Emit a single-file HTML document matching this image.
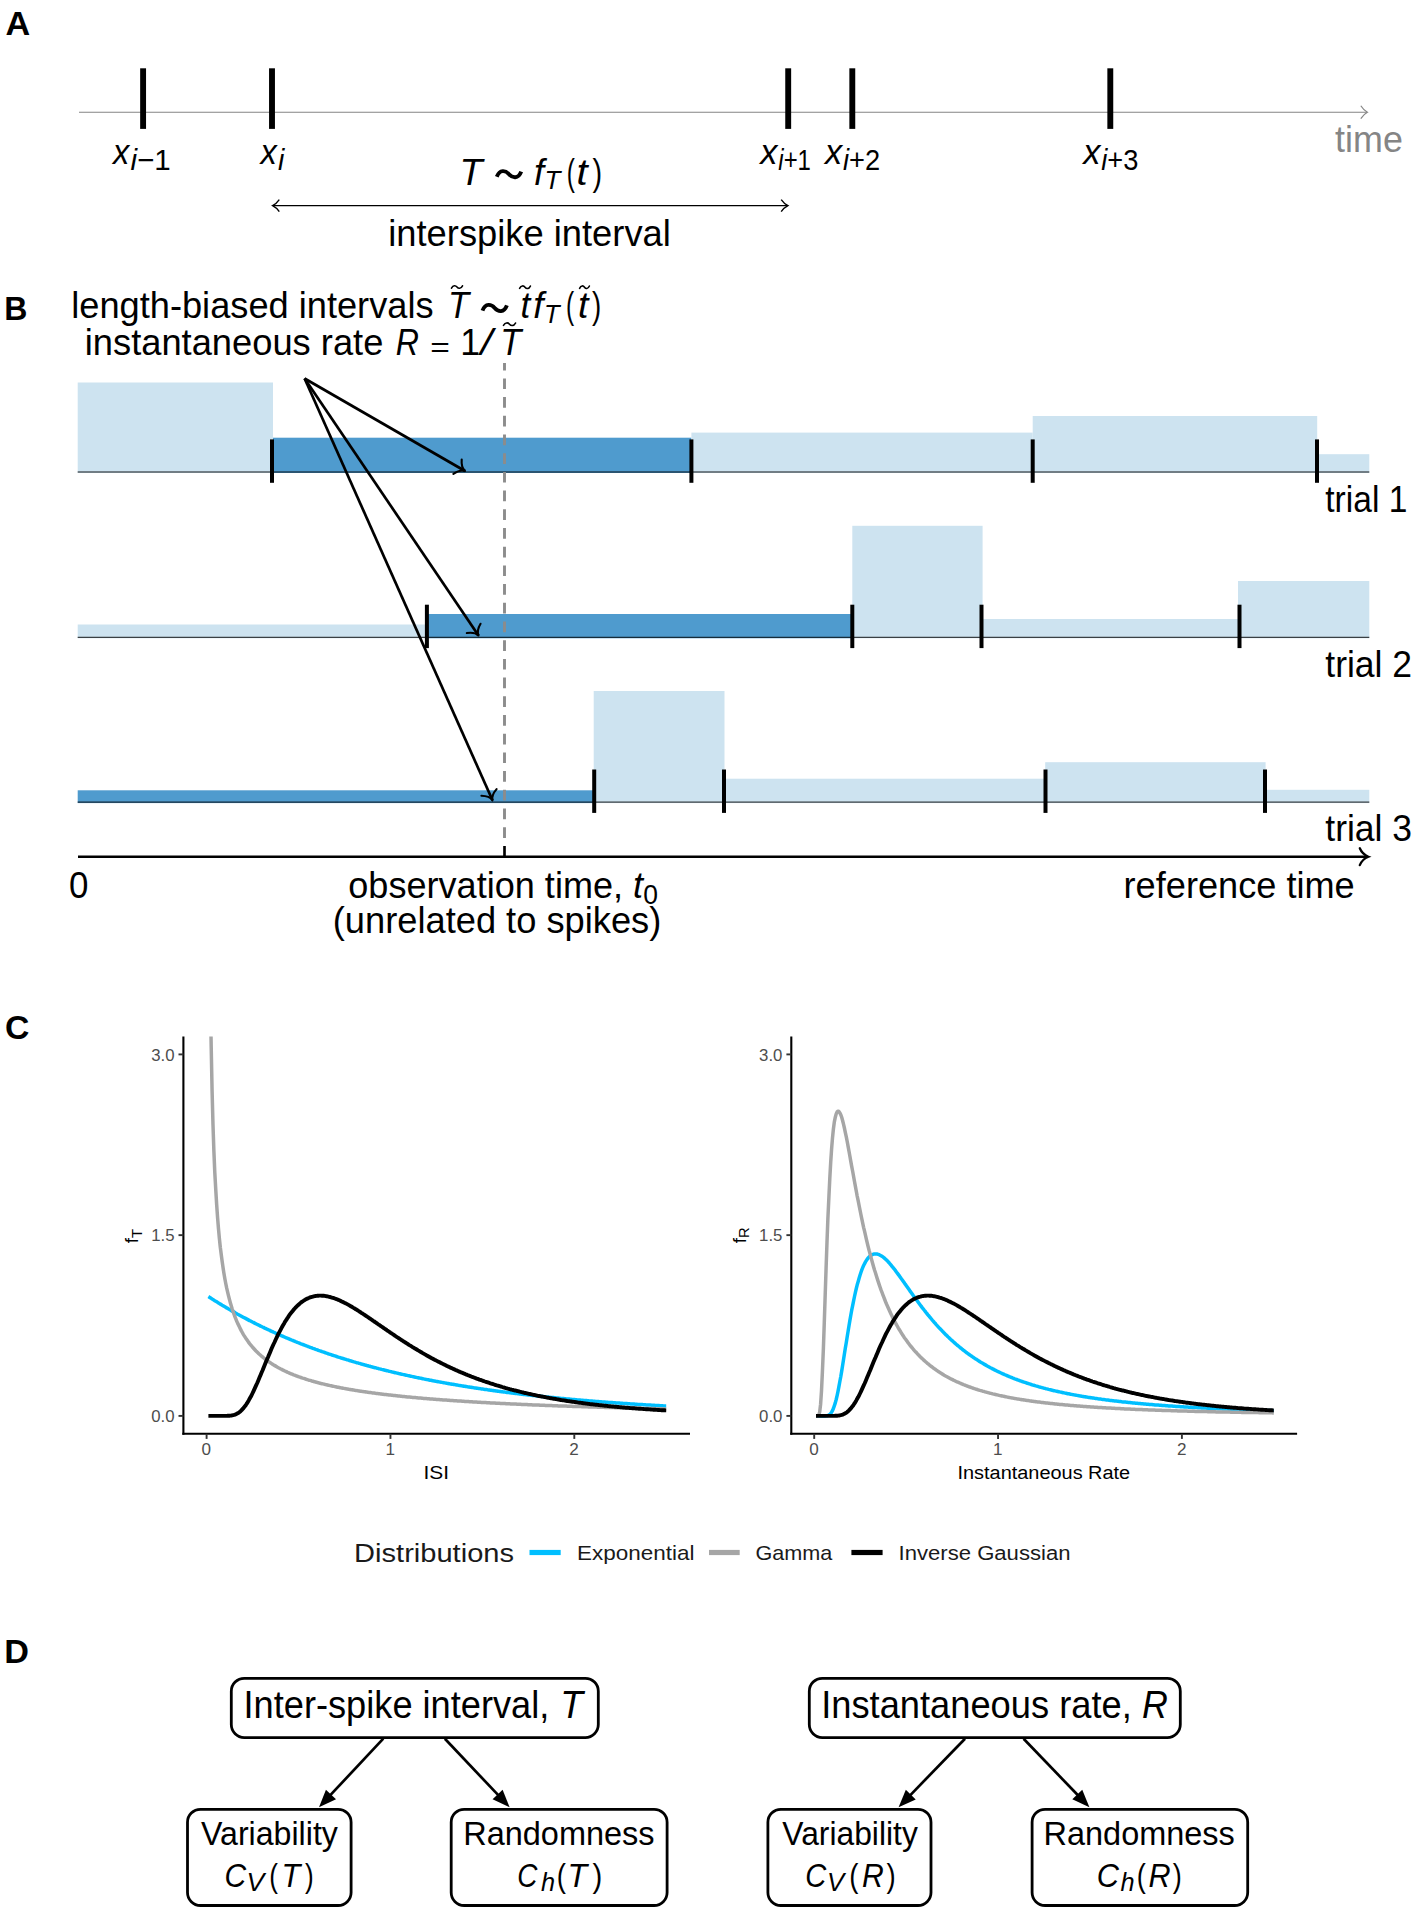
<!DOCTYPE html>
<html><head><meta charset="utf-8"><title>Figure</title>
<style>
html,body{margin:0;padding:0;background:#fff;}
body{width:1417px;height:1914px;overflow:hidden;font-family:"Liberation Sans",sans-serif;}
svg{display:block;}
svg text{font-family:"Liberation Sans",sans-serif;}
</style></head><body>
<svg width="1417" height="1914" viewBox="0 0 1417 1914">
<rect width="1417" height="1914" fill="#fff"/>
<text transform="translate(5.57,34.60) scale(1.0273,1)" font-size="33.3" fill="#000" font-weight="bold">A</text>
<text transform="translate(4.18,320.30) scale(0.9619,1)" font-size="33.3" fill="#000" font-weight="bold">B</text>
<text transform="translate(4.89,1039.40) scale(1.0136,1)" font-size="33.3" fill="#000" font-weight="bold">C</text>
<text transform="translate(4.34,1663.20) scale(1.0286,1)" font-size="33.3" fill="#000" font-weight="bold">D</text>
<g id="panelA">
<line x1="79.00" y1="112.20" x2="1366.80" y2="112.20" stroke="#858585" stroke-width="1.1" />
<path d="M1360.8,105.8 Q1363.6,110.2 1367.4,112.2 Q1363.6,114.2 1360.8,118.6" fill="none" stroke="#858585" stroke-width="1.2"/>
<line x1="143.10" y1="68.30" x2="143.10" y2="128.90" stroke="#000" stroke-width="5.9" />
<line x1="272.00" y1="68.30" x2="272.00" y2="128.90" stroke="#000" stroke-width="5.9" />
<line x1="788.20" y1="68.30" x2="788.20" y2="128.90" stroke="#000" stroke-width="5.9" />
<line x1="852.30" y1="68.30" x2="852.30" y2="128.90" stroke="#000" stroke-width="5.9" />
<line x1="1110.30" y1="68.30" x2="1110.30" y2="128.90" stroke="#000" stroke-width="5.9" />
<text transform="translate(1335.10,152.10) scale(0.9565,1)" font-size="37.5" fill="#858585" >time</text>
<text transform="translate(112.92,164.00) scale(0.9150,1)" font-size="35.6" fill="#000" font-style="italic">x</text>
<text transform="translate(130.40,169.80) scale(1.0128,1)" font-size="29.2" fill="#000" ><tspan font-style="italic">i</tspan>&#8722;1</text>
<text transform="translate(260.42,164.00) scale(0.9150,1)" font-size="35.6" fill="#000" font-style="italic">x</text>
<text transform="translate(278.10,169.80) scale(0.9714,1)" font-size="29.2" fill="#000" ><tspan font-style="italic">i</tspan></text>
<text transform="translate(760.37,164.00) scale(0.9650,1)" font-size="35.6" fill="#000" font-style="italic">x</text>
<text transform="translate(778.30,169.80) scale(0.8205,1)" font-size="29.2" fill="#000" ><tspan font-style="italic">i</tspan>+1</text>
<text transform="translate(825.07,164.00) scale(0.9650,1)" font-size="35.6" fill="#000" font-style="italic">x</text>
<text transform="translate(843.00,169.80) scale(0.9333,1)" font-size="29.2" fill="#000" ><tspan font-style="italic">i</tspan>+2</text>
<text transform="translate(1083.26,164.00) scale(0.9650,1)" font-size="35.6" fill="#000" font-style="italic">x</text>
<text transform="translate(1101.20,169.80) scale(0.9333,1)" font-size="29.2" fill="#000" ><tspan font-style="italic">i</tspan>+3</text>
<text transform="translate(459.39,184.50) scale(1.0045,1)" font-size="37.5" fill="#000" font-style="italic">T</text>
<path d="M496.80,176.80 C499.73,169.00 505.58,170.30 509.00,174.20 S518.27,179.40 521.20,171.60" fill="none" stroke="#000" stroke-width="3.9" stroke-linecap="butt"/>
<text transform="translate(534.04,184.50) scale(0.9615,1)" font-size="37.5" fill="#000" font-style="italic">f</text>
<text transform="translate(544.50,189.30) scale(1.0000,1)" font-size="26.0" fill="#000" font-style="italic">T</text>
<text transform="translate(566.70,184.50) scale(0.6500,1)" font-size="37.5" fill="#000" >(</text>
<text transform="translate(576.46,184.50) scale(1.0700,1)" font-size="37.5" fill="#000" font-style="italic">t</text>
<text transform="translate(592.50,184.50) scale(0.7700,1)" font-size="37.5" fill="#000" >)</text>
<line x1="273.00" y1="205.60" x2="787.50" y2="205.60" stroke="#000" stroke-width="1.4" />
<path d="M279.3,199.6 Q276.5,203.6 272.6,205.6 Q276.5,207.6 279.3,211.6" fill="none" stroke="#000" stroke-width="1.4"/>
<path d="M781.2,199.6 Q784,203.6 787.9,205.6 Q784,207.6 781.2,211.6" fill="none" stroke="#000" stroke-width="1.4"/>
<text transform="translate(388.26,245.50) scale(0.9684,1)" font-size="37.5" fill="#000" >interspike interval</text>
</g>
<g id="panelB">
<text transform="translate(71.27,318.00) scale(0.9656,1)" font-size="37.5" fill="#000" >length-biased intervals</text>
<text transform="translate(447.95,318.00) scale(0.9182,1)" font-size="37.5" fill="#000" font-style="italic">T</text>
<path d="M451.50,288.17 C453.15,284.92 455.68,285.31 457.00,287.00 S460.85,289.08 462.50,285.83" fill="none" stroke="#000" stroke-width="1.6" stroke-linecap="round"/>
<path d="M482.50,310.60 C485.43,302.80 491.28,304.10 494.70,308.00 S503.97,313.20 506.90,305.40" fill="none" stroke="#000" stroke-width="3.9" stroke-linecap="butt"/>
<text transform="translate(520.42,318.00) scale(0.9400,1)" font-size="37.5" fill="#000" font-style="italic">t</text>
<path d="M519.60,288.37 C521.22,285.12 523.70,285.51 525.00,287.20 S528.78,289.28 530.40,286.03" fill="none" stroke="#000" stroke-width="1.6" stroke-linecap="round"/>
<text transform="translate(533.22,318.00) scale(0.9846,1)" font-size="37.5" fill="#000" font-style="italic">f</text>
<text transform="translate(544.04,322.50) scale(0.9813,1)" font-size="26.0" fill="#000" font-style="italic">T</text>
<text transform="translate(565.90,318.00) scale(0.6500,1)" font-size="37.5" fill="#000" >(</text>
<text transform="translate(578.00,318.00) scale(1.0000,1)" font-size="37.5" fill="#000" font-style="italic">t</text>
<path d="M579.60,288.37 C581.07,285.12 583.32,285.51 584.50,287.20 S587.93,289.28 589.40,286.03" fill="none" stroke="#000" stroke-width="1.6" stroke-linecap="round"/>
<text transform="translate(592.00,318.00) scale(0.7400,1)" font-size="37.5" fill="#000" >)</text>
<text transform="translate(84.76,355.10) scale(0.9682,1)" font-size="37.5" fill="#000" >instantaneous rate</text>
<text transform="translate(395.74,355.10) scale(0.8560,1)" font-size="37.5" fill="#000" font-style="italic">R</text>
<text transform="translate(430.26,356.50) scale(1.2429,1)" font-size="27" fill="#000" >=</text>
<text transform="translate(460.15,355.10) scale(0.9500,1)" font-size="37.5" fill="#000" >1</text>
<text transform="translate(480.59,355.10) scale(1.1438,1)" font-size="37.5" fill="#000" font-style="italic">/</text>
<text transform="translate(500.25,355.10) scale(0.9182,1)" font-size="37.5" fill="#000" font-style="italic">T</text>
<path d="M503.50,325.37 C505.30,322.12 508.06,322.51 509.50,324.20 S513.70,326.28 515.50,323.03" fill="none" stroke="#000" stroke-width="1.6" stroke-linecap="round"/>
<rect x="77.70" y="382.50" width="195.30" height="90.50" fill="#cde3f0"/>
<rect x="273.00" y="437.70" width="418.40" height="35.30" fill="#4f9bce"/>
<rect x="691.40" y="432.60" width="341.30" height="40.40" fill="#cde3f0"/>
<rect x="1032.70" y="416.00" width="284.50" height="57.00" fill="#cde3f0"/>
<rect x="1317.20" y="454.20" width="52.10" height="18.80" fill="#cde3f0"/>
<line x1="77.70" y1="472.00" x2="1369.30" y2="472.00" stroke="#000" stroke-width="0.9" />
<line x1="272.00" y1="439.40" x2="272.00" y2="482.80" stroke="#000" stroke-width="4.0" />
<line x1="691.40" y1="439.40" x2="691.40" y2="482.80" stroke="#000" stroke-width="4.0" />
<line x1="1032.70" y1="439.40" x2="1032.70" y2="482.80" stroke="#000" stroke-width="4.0" />
<line x1="1317.00" y1="439.40" x2="1317.00" y2="482.80" stroke="#000" stroke-width="4.0" />
<rect x="77.70" y="624.50" width="349.30" height="13.80" fill="#cde3f0"/>
<rect x="427.00" y="614.00" width="425.30" height="24.30" fill="#4f9bce"/>
<rect x="852.30" y="525.80" width="130.30" height="112.50" fill="#cde3f0"/>
<rect x="982.60" y="619.00" width="255.40" height="19.30" fill="#cde3f0"/>
<rect x="1238.00" y="581.00" width="131.30" height="57.30" fill="#cde3f0"/>
<line x1="77.70" y1="637.30" x2="1369.30" y2="637.30" stroke="#000" stroke-width="0.9" />
<line x1="426.90" y1="604.70" x2="426.90" y2="648.10" stroke="#000" stroke-width="4.0" />
<line x1="852.30" y1="604.70" x2="852.30" y2="648.10" stroke="#000" stroke-width="4.0" />
<line x1="981.50" y1="604.70" x2="981.50" y2="648.10" stroke="#000" stroke-width="4.0" />
<line x1="1239.50" y1="604.70" x2="1239.50" y2="648.10" stroke="#000" stroke-width="4.0" />
<rect x="77.70" y="790.30" width="516.00" height="12.80" fill="#4f9bce"/>
<rect x="593.70" y="691.00" width="130.80" height="112.10" fill="#cde3f0"/>
<rect x="724.50" y="778.70" width="320.70" height="24.40" fill="#cde3f0"/>
<rect x="1045.20" y="762.20" width="220.40" height="40.90" fill="#cde3f0"/>
<rect x="1265.60" y="789.80" width="103.70" height="13.30" fill="#cde3f0"/>
<line x1="77.70" y1="802.10" x2="1369.30" y2="802.10" stroke="#000" stroke-width="0.9" />
<line x1="594.20" y1="769.50" x2="594.20" y2="812.90" stroke="#000" stroke-width="4.0" />
<line x1="724.00" y1="769.50" x2="724.00" y2="812.90" stroke="#000" stroke-width="4.0" />
<line x1="1045.50" y1="769.50" x2="1045.50" y2="812.90" stroke="#000" stroke-width="4.0" />
<line x1="1265.00" y1="769.50" x2="1265.00" y2="812.90" stroke="#000" stroke-width="4.0" />
<text transform="translate(1325.30,511.90) scale(0.8944,1)" font-size="37.5" fill="#000" >trial 1</text>
<text transform="translate(1325.30,676.70) scale(0.9467,1)" font-size="37.5" fill="#000" >trial 2</text>
<text transform="translate(1325.30,840.50) scale(0.9467,1)" font-size="37.5" fill="#000" >trial 3</text>
<line x1="504.50" y1="362.90" x2="504.50" y2="857.00" stroke="#8c8c8c" stroke-width="2.9" stroke-dasharray="10.7 8.0" stroke-dashoffset="3.2"/>
<line x1="304.60" y1="378.50" x2="465.00" y2="471.00" stroke="#000" stroke-width="2.7" />
<path d="M465.00,471.00 Q461.03,467.56 461.70,459.51 M465.00,471.00 Q460.03,469.29 453.40,473.89 " fill="none" stroke="#000" stroke-width="2.1" stroke-linecap="round"/>
<line x1="304.60" y1="378.50" x2="478.50" y2="635.50" stroke="#000" stroke-width="2.7" />
<path d="M478.50,635.50 Q476.43,630.67 480.55,623.73 M478.50,635.50 Q474.78,631.78 466.81,633.03 " fill="none" stroke="#000" stroke-width="2.1" stroke-linecap="round"/>
<line x1="304.60" y1="378.50" x2="492.50" y2="800.30" stroke="#000" stroke-width="2.7" />
<path d="M492.50,800.30 Q491.31,795.18 496.58,789.07 M492.50,800.30 Q489.49,795.99 481.42,795.82 " fill="none" stroke="#000" stroke-width="2.1" stroke-linecap="round"/>
<line x1="78.00" y1="856.70" x2="1367.00" y2="856.70" stroke="#000" stroke-width="2.6" />
<path d="M1359.8,848.3 Q1362.3,854.3 1368.4,856.7 Q1362.3,859.1 1359.8,865.1" fill="none" stroke="#000" stroke-width="2.3" stroke-linecap="round"/>
<line x1="504.50" y1="846.00" x2="504.50" y2="857.00" stroke="#000" stroke-width="2.4" />
<text transform="translate(69.07,898.00) scale(0.9316,1)" font-size="37.5" fill="#000" >0</text>
<text transform="translate(348.24,898.00) scale(0.9628,1)" font-size="37.5" fill="#000" >observation time, <tspan font-style="italic">t</tspan><tspan font-size="27.5" dy="5.6">0</tspan></text>
<text transform="translate(332.76,933.00) scale(0.9676,1)" font-size="37.5" fill="#000" >(unrelated to spikes)</text>
<text transform="translate(1123.57,898.00) scale(0.9648,1)" font-size="37.5" fill="#000" >reference time</text>
</g>
<g id="panelC">
<clipPath id="clip183"><rect x="183.4" y="1036.4" width="506.6" height="397.39999999999986"/></clipPath>
<polyline clip-path="url(#clip183)" points="208.4,1296.6 209.4,1297.2 210.3,1297.8 211.2,1298.4 212.1,1299.0 213.0,1299.5 213.9,1300.1 214.8,1300.7 215.8,1301.3 216.7,1301.8 217.6,1302.4 218.5,1303.0 219.4,1303.5 220.3,1304.1 221.3,1304.6 222.2,1305.2 223.1,1305.7 224.0,1306.3 224.9,1306.8 225.8,1307.4 226.7,1307.9 227.7,1308.4 228.6,1309.0 229.5,1309.5 230.4,1310.0 231.3,1310.6 232.2,1311.1 233.2,1311.6 234.1,1312.1 235.0,1312.6 235.9,1313.2 236.8,1313.7 237.7,1314.2 238.7,1314.7 239.6,1315.2 240.5,1315.7 241.4,1316.2 242.3,1316.7 243.2,1317.2 244.1,1317.7 245.1,1318.1 246.0,1318.6 246.9,1319.1 247.8,1319.6 248.7,1320.1 249.6,1320.6 250.6,1321.0 251.5,1321.5 252.4,1322.0 253.3,1322.4 254.2,1322.9 255.1,1323.4 256.0,1323.8 257.0,1324.3 257.9,1324.7 258.8,1325.2 259.7,1325.6 260.6,1326.1 261.5,1326.5 262.5,1327.0 263.4,1327.4 264.3,1327.9 265.2,1328.3 266.1,1328.7 267.0,1329.2 268.0,1329.6 268.9,1330.0 269.8,1330.4 270.7,1330.9 271.6,1331.3 272.5,1331.7 273.4,1332.1 274.4,1332.5 275.3,1333.0 276.2,1333.4 277.1,1333.8 278.0,1334.2 278.9,1334.6 279.9,1335.0 280.8,1335.4 281.7,1335.8 282.6,1336.2 283.5,1336.6 284.4,1337.0 285.3,1337.4 286.3,1337.8 287.2,1338.2 288.1,1338.5 289.0,1338.9 289.9,1339.3 290.8,1339.7 291.8,1340.1 292.7,1340.4 293.6,1340.8 294.5,1341.2 295.4,1341.6 296.3,1341.9 297.2,1342.3 298.2,1342.7 299.1,1343.0 300.0,1343.4 300.9,1343.8 301.8,1344.1 302.7,1344.5 303.7,1344.8 304.6,1345.2 305.5,1345.5 306.4,1345.9 307.3,1346.2 308.2,1346.6 309.2,1346.9 310.1,1347.3 311.0,1347.6 311.9,1347.9 312.8,1348.3 313.7,1348.6 314.6,1348.9 315.6,1349.3 316.5,1349.6 317.4,1349.9 318.3,1350.3 319.2,1350.6 320.1,1350.9 321.1,1351.2 322.0,1351.6 322.9,1351.9 323.8,1352.2 324.7,1352.5 325.6,1352.8 326.5,1353.1 327.5,1353.5 328.4,1353.8 329.3,1354.1 330.2,1354.4 331.1,1354.7 332.0,1355.0 333.0,1355.3 333.9,1355.6 334.8,1355.9 335.7,1356.2 336.6,1356.5 337.5,1356.8 338.4,1357.1 339.4,1357.4 340.3,1357.7 341.2,1358.0 342.1,1358.2 343.0,1358.5 343.9,1358.8 344.9,1359.1 345.8,1359.4 346.7,1359.7 347.6,1359.9 348.5,1360.2 349.4,1360.5 350.4,1360.8 351.3,1361.0 352.2,1361.3 353.1,1361.6 354.0,1361.9 354.9,1362.1 355.8,1362.4 356.8,1362.7 357.7,1362.9 358.6,1363.2 359.5,1363.4 360.4,1363.7 361.3,1364.0 362.3,1364.2 363.2,1364.5 364.1,1364.7 365.0,1365.0 365.9,1365.2 366.8,1365.5 367.7,1365.7 368.7,1366.0 369.6,1366.2 370.5,1366.5 371.4,1366.7 372.3,1367.0 373.2,1367.2 374.2,1367.5 375.1,1367.7 376.0,1367.9 376.9,1368.2 377.8,1368.4 378.7,1368.7 379.7,1368.9 380.6,1369.1 381.5,1369.4 382.4,1369.6 383.3,1369.8 384.2,1370.0 385.1,1370.3 386.1,1370.5 387.0,1370.7 387.9,1370.9 388.8,1371.2 389.7,1371.4 390.6,1371.6 391.6,1371.8 392.5,1372.1 393.4,1372.3 394.3,1372.5 395.2,1372.7 396.1,1372.9 397.0,1373.1 398.0,1373.3 398.9,1373.6 399.8,1373.8 400.7,1374.0 401.6,1374.2 402.5,1374.4 403.5,1374.6 404.4,1374.8 405.3,1375.0 406.2,1375.2 407.1,1375.4 408.0,1375.6 408.9,1375.8 409.9,1376.0 410.8,1376.2 411.7,1376.4 412.6,1376.6 413.5,1376.8 414.4,1377.0 415.4,1377.2 416.3,1377.4 417.2,1377.6 418.1,1377.8 419.0,1378.0 419.9,1378.1 420.9,1378.3 421.8,1378.5 422.7,1378.7 423.6,1378.9 424.5,1379.1 425.4,1379.3 426.3,1379.4 427.3,1379.6 428.2,1379.8 429.1,1380.0 430.0,1380.2 430.9,1380.3 431.8,1380.5 432.8,1380.7 433.7,1380.9 434.6,1381.0 435.5,1381.2 436.4,1381.4 437.3,1381.5 438.2,1381.7 439.2,1381.9 440.1,1382.1 441.0,1382.2 441.9,1382.4 442.8,1382.6 443.7,1382.7 444.7,1382.9 445.6,1383.1 446.5,1383.2 447.4,1383.4 448.3,1383.5 449.2,1383.7 450.1,1383.9 451.1,1384.0 452.0,1384.2 452.9,1384.3 453.8,1384.5 454.7,1384.6 455.6,1384.8 456.6,1385.0 457.5,1385.1 458.4,1385.3 459.3,1385.4 460.2,1385.6 461.1,1385.7 462.1,1385.9 463.0,1386.0 463.9,1386.2 464.8,1386.3 465.7,1386.5 466.6,1386.6 467.5,1386.8 468.5,1386.9 469.4,1387.0 470.3,1387.2 471.2,1387.3 472.1,1387.5 473.0,1387.6 474.0,1387.8 474.9,1387.9 475.8,1388.0 476.7,1388.2 477.6,1388.3 478.5,1388.4 479.4,1388.6 480.4,1388.7 481.3,1388.9 482.2,1389.0 483.1,1389.1 484.0,1389.3 484.9,1389.4 485.9,1389.5 486.8,1389.6 487.7,1389.8 488.6,1389.9 489.5,1390.0 490.4,1390.2 491.4,1390.3 492.3,1390.4 493.2,1390.5 494.1,1390.7 495.0,1390.8 495.9,1390.9 496.8,1391.0 497.8,1391.2 498.7,1391.3 499.6,1391.4 500.5,1391.5 501.4,1391.7 502.3,1391.8 503.3,1391.9 504.2,1392.0 505.1,1392.1 506.0,1392.3 506.9,1392.4 507.8,1392.5 508.7,1392.6 509.7,1392.7 510.6,1392.8 511.5,1393.0 512.4,1393.1 513.3,1393.2 514.2,1393.3 515.2,1393.4 516.1,1393.5 517.0,1393.6 517.9,1393.7 518.8,1393.8 519.7,1394.0 520.6,1394.1 521.6,1394.2 522.5,1394.3 523.4,1394.4 524.3,1394.5 525.2,1394.6 526.1,1394.7 527.1,1394.8 528.0,1394.9 528.9,1395.0 529.8,1395.1 530.7,1395.2 531.6,1395.3 532.6,1395.4 533.5,1395.5 534.4,1395.6 535.3,1395.7 536.2,1395.8 537.1,1395.9 538.0,1396.0 539.0,1396.1 539.9,1396.2 540.8,1396.3 541.7,1396.4 542.6,1396.5 543.5,1396.6 544.5,1396.7 545.4,1396.8 546.3,1396.9 547.2,1397.0 548.1,1397.1 549.0,1397.2 549.9,1397.3 550.9,1397.4 551.8,1397.5 552.7,1397.6 553.6,1397.6 554.5,1397.7 555.4,1397.8 556.4,1397.9 557.3,1398.0 558.2,1398.1 559.1,1398.2 560.0,1398.3 560.9,1398.4 561.8,1398.4 562.8,1398.5 563.7,1398.6 564.6,1398.7 565.5,1398.8 566.4,1398.9 567.3,1399.0 568.3,1399.0 569.2,1399.1 570.1,1399.2 571.0,1399.3 571.9,1399.4 572.8,1399.5 573.8,1399.5 574.7,1399.6 575.6,1399.7 576.5,1399.8 577.4,1399.9 578.3,1399.9 579.2,1400.0 580.2,1400.1 581.1,1400.2 582.0,1400.3 582.9,1400.3 583.8,1400.4 584.7,1400.5 585.7,1400.6 586.6,1400.6 587.5,1400.7 588.4,1400.8 589.3,1400.9 590.2,1400.9 591.1,1401.0 592.1,1401.1 593.0,1401.2 593.9,1401.2 594.8,1401.3 595.7,1401.4 596.6,1401.5 597.6,1401.5 598.5,1401.6 599.4,1401.7 600.3,1401.7 601.2,1401.8 602.1,1401.9 603.1,1402.0 604.0,1402.0 604.9,1402.1 605.8,1402.2 606.7,1402.2 607.6,1402.3 608.5,1402.4 609.5,1402.4 610.4,1402.5 611.3,1402.6 612.2,1402.6 613.1,1402.7 614.0,1402.8 615.0,1402.8 615.9,1402.9 616.8,1403.0 617.7,1403.0 618.6,1403.1 619.5,1403.1 620.4,1403.2 621.4,1403.3 622.3,1403.3 623.2,1403.4 624.1,1403.5 625.0,1403.5 625.9,1403.6 626.9,1403.6 627.8,1403.7 628.7,1403.8 629.6,1403.8 630.5,1403.9 631.4,1403.9 632.3,1404.0 633.3,1404.1 634.2,1404.1 635.1,1404.2 636.0,1404.2 636.9,1404.3 637.8,1404.4 638.8,1404.4 639.7,1404.5 640.6,1404.5 641.5,1404.6 642.4,1404.6 643.3,1404.7 644.3,1404.8 645.2,1404.8 646.1,1404.9 647.0,1404.9 647.9,1405.0 648.8,1405.0 649.7,1405.1 650.7,1405.1 651.6,1405.2 652.5,1405.2 653.4,1405.3 654.3,1405.3 655.2,1405.4 656.2,1405.5 657.1,1405.5 658.0,1405.6 658.9,1405.6 659.8,1405.7 660.7,1405.7 661.6,1405.8 662.6,1405.8 663.5,1405.9 664.4,1405.9 665.3,1406.0 666.2,1406.0" fill="none" stroke="#00bfff" stroke-width="3.5" stroke-linejoin="round"/>
<polyline clip-path="url(#clip183)" points="208.4,996.4 209.4,996.4 210.3,996.4 211.2,1046.8 212.1,1091.4 213.0,1125.0 213.9,1151.4 214.8,1172.6 215.8,1190.3 216.7,1205.1 217.6,1217.9 218.5,1228.9 219.4,1238.6 220.3,1247.2 221.3,1254.9 222.2,1261.8 223.1,1268.1 224.0,1273.8 224.9,1279.0 225.8,1283.8 226.7,1288.2 227.7,1292.3 228.6,1296.1 229.5,1299.7 230.4,1303.0 231.3,1306.1 232.2,1309.0 233.2,1311.8 234.1,1314.4 235.0,1316.8 235.9,1319.1 236.8,1321.3 237.7,1323.4 238.7,1325.4 239.6,1327.3 240.5,1329.1 241.4,1330.9 242.3,1332.5 243.2,1334.1 244.1,1335.6 245.1,1337.1 246.0,1338.5 246.9,1339.8 247.8,1341.1 248.7,1342.4 249.6,1343.6 250.6,1344.8 251.5,1345.9 252.4,1347.0 253.3,1348.0 254.2,1349.0 255.1,1350.0 256.0,1351.0 257.0,1351.9 257.9,1352.8 258.8,1353.7 259.7,1354.5 260.6,1355.3 261.5,1356.1 262.5,1356.9 263.4,1357.7 264.3,1358.4 265.2,1359.1 266.1,1359.8 267.0,1360.5 268.0,1361.1 268.9,1361.8 269.8,1362.4 270.7,1363.0 271.6,1363.6 272.5,1364.2 273.4,1364.8 274.4,1365.4 275.3,1365.9 276.2,1366.4 277.1,1367.0 278.0,1367.5 278.9,1368.0 279.9,1368.5 280.8,1369.0 281.7,1369.4 282.6,1369.9 283.5,1370.3 284.4,1370.8 285.3,1371.2 286.3,1371.6 287.2,1372.1 288.1,1372.5 289.0,1372.9 289.9,1373.3 290.8,1373.7 291.8,1374.0 292.7,1374.4 293.6,1374.8 294.5,1375.1 295.4,1375.5 296.3,1375.8 297.2,1376.2 298.2,1376.5 299.1,1376.9 300.0,1377.2 300.9,1377.5 301.8,1377.8 302.7,1378.1 303.7,1378.4 304.6,1378.7 305.5,1379.0 306.4,1379.3 307.3,1379.6 308.2,1379.9 309.2,1380.2 310.1,1380.4 311.0,1380.7 311.9,1381.0 312.8,1381.2 313.7,1381.5 314.6,1381.8 315.6,1382.0 316.5,1382.3 317.4,1382.5 318.3,1382.7 319.2,1383.0 320.1,1383.2 321.1,1383.5 322.0,1383.7 322.9,1383.9 323.8,1384.1 324.7,1384.3 325.6,1384.6 326.5,1384.8 327.5,1385.0 328.4,1385.2 329.3,1385.4 330.2,1385.6 331.1,1385.8 332.0,1386.0 333.0,1386.2 333.9,1386.4 334.8,1386.6 335.7,1386.8 336.6,1387.0 337.5,1387.2 338.4,1387.3 339.4,1387.5 340.3,1387.7 341.2,1387.9 342.1,1388.0 343.0,1388.2 343.9,1388.4 344.9,1388.6 345.8,1388.7 346.7,1388.9 347.6,1389.0 348.5,1389.2 349.4,1389.4 350.4,1389.5 351.3,1389.7 352.2,1389.8 353.1,1390.0 354.0,1390.1 354.9,1390.3 355.8,1390.4 356.8,1390.6 357.7,1390.7 358.6,1390.9 359.5,1391.0 360.4,1391.2 361.3,1391.3 362.3,1391.4 363.2,1391.6 364.1,1391.7 365.0,1391.8 365.9,1392.0 366.8,1392.1 367.7,1392.2 368.7,1392.4 369.6,1392.5 370.5,1392.6 371.4,1392.7 372.3,1392.9 373.2,1393.0 374.2,1393.1 375.1,1393.2 376.0,1393.4 376.9,1393.5 377.8,1393.6 378.7,1393.7 379.7,1393.8 380.6,1393.9 381.5,1394.0 382.4,1394.2 383.3,1394.3 384.2,1394.4 385.1,1394.5 386.1,1394.6 387.0,1394.7 387.9,1394.8 388.8,1394.9 389.7,1395.0 390.6,1395.1 391.6,1395.2 392.5,1395.3 393.4,1395.4 394.3,1395.5 395.2,1395.6 396.1,1395.7 397.0,1395.8 398.0,1395.9 398.9,1396.0 399.8,1396.1 400.7,1396.2 401.6,1396.3 402.5,1396.4 403.5,1396.5 404.4,1396.6 405.3,1396.7 406.2,1396.8 407.1,1396.9 408.0,1396.9 408.9,1397.0 409.9,1397.1 410.8,1397.2 411.7,1397.3 412.6,1397.4 413.5,1397.5 414.4,1397.5 415.4,1397.6 416.3,1397.7 417.2,1397.8 418.1,1397.9 419.0,1398.0 419.9,1398.0 420.9,1398.1 421.8,1398.2 422.7,1398.3 423.6,1398.4 424.5,1398.4 425.4,1398.5 426.3,1398.6 427.3,1398.7 428.2,1398.7 429.1,1398.8 430.0,1398.9 430.9,1399.0 431.8,1399.0 432.8,1399.1 433.7,1399.2 434.6,1399.3 435.5,1399.3 436.4,1399.4 437.3,1399.5 438.2,1399.5 439.2,1399.6 440.1,1399.7 441.0,1399.7 441.9,1399.8 442.8,1399.9 443.7,1399.9 444.7,1400.0 445.6,1400.1 446.5,1400.1 447.4,1400.2 448.3,1400.3 449.2,1400.3 450.1,1400.4 451.1,1400.5 452.0,1400.5 452.9,1400.6 453.8,1400.7 454.7,1400.7 455.6,1400.8 456.6,1400.8 457.5,1400.9 458.4,1401.0 459.3,1401.0 460.2,1401.1 461.1,1401.1 462.1,1401.2 463.0,1401.3 463.9,1401.3 464.8,1401.4 465.7,1401.4 466.6,1401.5 467.5,1401.6 468.5,1401.6 469.4,1401.7 470.3,1401.7 471.2,1401.8 472.1,1401.8 473.0,1401.9 474.0,1401.9 474.9,1402.0 475.8,1402.0 476.7,1402.1 477.6,1402.2 478.5,1402.2 479.4,1402.3 480.4,1402.3 481.3,1402.4 482.2,1402.4 483.1,1402.5 484.0,1402.5 484.9,1402.6 485.9,1402.6 486.8,1402.7 487.7,1402.7 488.6,1402.8 489.5,1402.8 490.4,1402.9 491.4,1402.9 492.3,1403.0 493.2,1403.0 494.1,1403.1 495.0,1403.1 495.9,1403.2 496.8,1403.2 497.8,1403.2 498.7,1403.3 499.6,1403.3 500.5,1403.4 501.4,1403.4 502.3,1403.5 503.3,1403.5 504.2,1403.6 505.1,1403.6 506.0,1403.7 506.9,1403.7 507.8,1403.7 508.7,1403.8 509.7,1403.8 510.6,1403.9 511.5,1403.9 512.4,1404.0 513.3,1404.0 514.2,1404.1 515.2,1404.1 516.1,1404.1 517.0,1404.2 517.9,1404.2 518.8,1404.3 519.7,1404.3 520.6,1404.3 521.6,1404.4 522.5,1404.4 523.4,1404.5 524.3,1404.5 525.2,1404.5 526.1,1404.6 527.1,1404.6 528.0,1404.7 528.9,1404.7 529.8,1404.7 530.7,1404.8 531.6,1404.8 532.6,1404.9 533.5,1404.9 534.4,1404.9 535.3,1405.0 536.2,1405.0 537.1,1405.0 538.0,1405.1 539.0,1405.1 539.9,1405.2 540.8,1405.2 541.7,1405.2 542.6,1405.3 543.5,1405.3 544.5,1405.3 545.4,1405.4 546.3,1405.4 547.2,1405.4 548.1,1405.5 549.0,1405.5 549.9,1405.5 550.9,1405.6 551.8,1405.6 552.7,1405.7 553.6,1405.7 554.5,1405.7 555.4,1405.8 556.4,1405.8 557.3,1405.8 558.2,1405.9 559.1,1405.9 560.0,1405.9 560.9,1406.0 561.8,1406.0 562.8,1406.0 563.7,1406.1 564.6,1406.1 565.5,1406.1 566.4,1406.1 567.3,1406.2 568.3,1406.2 569.2,1406.2 570.1,1406.3 571.0,1406.3 571.9,1406.3 572.8,1406.4 573.8,1406.4 574.7,1406.4 575.6,1406.5 576.5,1406.5 577.4,1406.5 578.3,1406.6 579.2,1406.6 580.2,1406.6 581.1,1406.6 582.0,1406.7 582.9,1406.7 583.8,1406.7 584.7,1406.8 585.7,1406.8 586.6,1406.8 587.5,1406.8 588.4,1406.9 589.3,1406.9 590.2,1406.9 591.1,1407.0 592.1,1407.0 593.0,1407.0 593.9,1407.0 594.8,1407.1 595.7,1407.1 596.6,1407.1 597.6,1407.2 598.5,1407.2 599.4,1407.2 600.3,1407.2 601.2,1407.3 602.1,1407.3 603.1,1407.3 604.0,1407.3 604.9,1407.4 605.8,1407.4 606.7,1407.4 607.6,1407.4 608.5,1407.5 609.5,1407.5 610.4,1407.5 611.3,1407.6 612.2,1407.6 613.1,1407.6 614.0,1407.6 615.0,1407.7 615.9,1407.7 616.8,1407.7 617.7,1407.7 618.6,1407.8 619.5,1407.8 620.4,1407.8 621.4,1407.8 622.3,1407.9 623.2,1407.9 624.1,1407.9 625.0,1407.9 625.9,1407.9 626.9,1408.0 627.8,1408.0 628.7,1408.0 629.6,1408.0 630.5,1408.1 631.4,1408.1 632.3,1408.1 633.3,1408.1 634.2,1408.2 635.1,1408.2 636.0,1408.2 636.9,1408.2 637.8,1408.3 638.8,1408.3 639.7,1408.3 640.6,1408.3 641.5,1408.3 642.4,1408.4 643.3,1408.4 644.3,1408.4 645.2,1408.4 646.1,1408.5 647.0,1408.5 647.9,1408.5 648.8,1408.5 649.7,1408.5 650.7,1408.6 651.6,1408.6 652.5,1408.6 653.4,1408.6 654.3,1408.6 655.2,1408.7 656.2,1408.7 657.1,1408.7 658.0,1408.7 658.9,1408.8 659.8,1408.8 660.7,1408.8 661.6,1408.8 662.6,1408.8 663.5,1408.9 664.4,1408.9 665.3,1408.9 666.2,1408.9" fill="none" stroke="#a6a6a6" stroke-width="3.5" stroke-linejoin="round"/>
<polyline clip-path="url(#clip183)" points="208.4,1415.9 209.4,1415.9 210.3,1415.9 211.2,1415.9 212.1,1415.9 213.0,1415.9 213.9,1415.9 214.8,1415.9 215.8,1415.9 216.7,1415.9 217.6,1415.9 218.5,1415.9 219.4,1415.9 220.3,1415.9 221.3,1415.9 222.2,1415.9 223.1,1415.9 224.0,1415.9 224.9,1415.9 225.8,1415.9 226.7,1415.9 227.7,1415.8 228.6,1415.8 229.5,1415.7 230.4,1415.6 231.3,1415.5 232.2,1415.3 233.2,1415.1 234.1,1414.9 235.0,1414.6 235.9,1414.2 236.8,1413.8 237.7,1413.2 238.7,1412.7 239.6,1412.0 240.5,1411.2 241.4,1410.4 242.3,1409.4 243.2,1408.4 244.1,1407.3 245.1,1406.1 246.0,1404.8 246.9,1403.4 247.8,1401.9 248.7,1400.4 249.6,1398.8 250.6,1397.1 251.5,1395.3 252.4,1393.5 253.3,1391.6 254.2,1389.6 255.1,1387.6 256.0,1385.6 257.0,1383.5 257.9,1381.4 258.8,1379.3 259.7,1377.1 260.6,1374.9 261.5,1372.7 262.5,1370.5 263.4,1368.2 264.3,1366.0 265.2,1363.8 266.1,1361.6 267.0,1359.4 268.0,1357.2 268.9,1355.0 269.8,1352.9 270.7,1350.7 271.6,1348.6 272.5,1346.5 273.4,1344.5 274.4,1342.5 275.3,1340.5 276.2,1338.5 277.1,1336.6 278.0,1334.7 278.9,1332.9 279.9,1331.1 280.8,1329.4 281.7,1327.7 282.6,1326.0 283.5,1324.4 284.4,1322.9 285.3,1321.3 286.3,1319.9 287.2,1318.4 288.1,1317.1 289.0,1315.7 289.9,1314.4 290.8,1313.2 291.8,1312.0 292.7,1310.9 293.6,1309.8 294.5,1308.7 295.4,1307.7 296.3,1306.8 297.2,1305.9 298.2,1305.0 299.1,1304.2 300.0,1303.4 300.9,1302.6 301.8,1301.9 302.7,1301.3 303.7,1300.7 304.6,1300.1 305.5,1299.5 306.4,1299.0 307.3,1298.6 308.2,1298.2 309.2,1297.8 310.1,1297.4 311.0,1297.1 311.9,1296.8 312.8,1296.6 313.7,1296.3 314.6,1296.1 315.6,1296.0 316.5,1295.9 317.4,1295.8 318.3,1295.7 319.2,1295.6 320.1,1295.6 321.1,1295.6 322.0,1295.7 322.9,1295.7 323.8,1295.8 324.7,1295.9 325.6,1296.1 326.5,1296.2 327.5,1296.4 328.4,1296.6 329.3,1296.8 330.2,1297.0 331.1,1297.3 332.0,1297.6 333.0,1297.9 333.9,1298.2 334.8,1298.5 335.7,1298.8 336.6,1299.2 337.5,1299.5 338.4,1299.9 339.4,1300.3 340.3,1300.7 341.2,1301.2 342.1,1301.6 343.0,1302.0 343.9,1302.5 344.9,1303.0 345.8,1303.4 346.7,1303.9 347.6,1304.4 348.5,1304.9 349.4,1305.4 350.4,1306.0 351.3,1306.5 352.2,1307.0 353.1,1307.6 354.0,1308.1 354.9,1308.7 355.8,1309.3 356.8,1309.8 357.7,1310.4 358.6,1311.0 359.5,1311.6 360.4,1312.2 361.3,1312.8 362.3,1313.4 363.2,1314.0 364.1,1314.6 365.0,1315.2 365.9,1315.8 366.8,1316.4 367.7,1317.0 368.7,1317.7 369.6,1318.3 370.5,1318.9 371.4,1319.5 372.3,1320.2 373.2,1320.8 374.2,1321.4 375.1,1322.1 376.0,1322.7 376.9,1323.3 377.8,1324.0 378.7,1324.6 379.7,1325.2 380.6,1325.9 381.5,1326.5 382.4,1327.1 383.3,1327.7 384.2,1328.4 385.1,1329.0 386.1,1329.6 387.0,1330.3 387.9,1330.9 388.8,1331.5 389.7,1332.1 390.6,1332.8 391.6,1333.4 392.5,1334.0 393.4,1334.6 394.3,1335.2 395.2,1335.9 396.1,1336.5 397.0,1337.1 398.0,1337.7 398.9,1338.3 399.8,1338.9 400.7,1339.5 401.6,1340.1 402.5,1340.7 403.5,1341.3 404.4,1341.9 405.3,1342.5 406.2,1343.0 407.1,1343.6 408.0,1344.2 408.9,1344.8 409.9,1345.4 410.8,1345.9 411.7,1346.5 412.6,1347.1 413.5,1347.6 414.4,1348.2 415.4,1348.7 416.3,1349.3 417.2,1349.8 418.1,1350.4 419.0,1350.9 419.9,1351.5 420.9,1352.0 421.8,1352.5 422.7,1353.1 423.6,1353.6 424.5,1354.1 425.4,1354.6 426.3,1355.2 427.3,1355.7 428.2,1356.2 429.1,1356.7 430.0,1357.2 430.9,1357.7 431.8,1358.2 432.8,1358.7 433.7,1359.2 434.6,1359.7 435.5,1360.1 436.4,1360.6 437.3,1361.1 438.2,1361.6 439.2,1362.0 440.1,1362.5 441.0,1363.0 441.9,1363.4 442.8,1363.9 443.7,1364.4 444.7,1364.8 445.6,1365.2 446.5,1365.7 447.4,1366.1 448.3,1366.6 449.2,1367.0 450.1,1367.4 451.1,1367.9 452.0,1368.3 452.9,1368.7 453.8,1369.1 454.7,1369.5 455.6,1370.0 456.6,1370.4 457.5,1370.8 458.4,1371.2 459.3,1371.6 460.2,1372.0 461.1,1372.4 462.1,1372.7 463.0,1373.1 463.9,1373.5 464.8,1373.9 465.7,1374.3 466.6,1374.6 467.5,1375.0 468.5,1375.4 469.4,1375.7 470.3,1376.1 471.2,1376.5 472.1,1376.8 473.0,1377.2 474.0,1377.5 474.9,1377.9 475.8,1378.2 476.7,1378.6 477.6,1378.9 478.5,1379.2 479.4,1379.6 480.4,1379.9 481.3,1380.2 482.2,1380.5 483.1,1380.9 484.0,1381.2 484.9,1381.5 485.9,1381.8 486.8,1382.1 487.7,1382.4 488.6,1382.7 489.5,1383.0 490.4,1383.3 491.4,1383.6 492.3,1383.9 493.2,1384.2 494.1,1384.5 495.0,1384.8 495.9,1385.1 496.8,1385.4 497.8,1385.6 498.7,1385.9 499.6,1386.2 500.5,1386.5 501.4,1386.7 502.3,1387.0 503.3,1387.3 504.2,1387.5 505.1,1387.8 506.0,1388.1 506.9,1388.3 507.8,1388.6 508.7,1388.8 509.7,1389.1 510.6,1389.3 511.5,1389.6 512.4,1389.8 513.3,1390.0 514.2,1390.3 515.2,1390.5 516.1,1390.7 517.0,1391.0 517.9,1391.2 518.8,1391.4 519.7,1391.7 520.6,1391.9 521.6,1392.1 522.5,1392.3 523.4,1392.5 524.3,1392.8 525.2,1393.0 526.1,1393.2 527.1,1393.4 528.0,1393.6 528.9,1393.8 529.8,1394.0 530.7,1394.2 531.6,1394.4 532.6,1394.6 533.5,1394.8 534.4,1395.0 535.3,1395.2 536.2,1395.4 537.1,1395.6 538.0,1395.8 539.0,1396.0 539.9,1396.2 540.8,1396.3 541.7,1396.5 542.6,1396.7 543.5,1396.9 544.5,1397.0 545.4,1397.2 546.3,1397.4 547.2,1397.6 548.1,1397.7 549.0,1397.9 549.9,1398.1 550.9,1398.2 551.8,1398.4 552.7,1398.6 553.6,1398.7 554.5,1398.9 555.4,1399.0 556.4,1399.2 557.3,1399.4 558.2,1399.5 559.1,1399.7 560.0,1399.8 560.9,1400.0 561.8,1400.1 562.8,1400.3 563.7,1400.4 564.6,1400.5 565.5,1400.7 566.4,1400.8 567.3,1401.0 568.3,1401.1 569.2,1401.2 570.1,1401.4 571.0,1401.5 571.9,1401.7 572.8,1401.8 573.8,1401.9 574.7,1402.0 575.6,1402.2 576.5,1402.3 577.4,1402.4 578.3,1402.6 579.2,1402.7 580.2,1402.8 581.1,1402.9 582.0,1403.0 582.9,1403.2 583.8,1403.3 584.7,1403.4 585.7,1403.5 586.6,1403.6 587.5,1403.7 588.4,1403.9 589.3,1404.0 590.2,1404.1 591.1,1404.2 592.1,1404.3 593.0,1404.4 593.9,1404.5 594.8,1404.6 595.7,1404.7 596.6,1404.8 597.6,1404.9 598.5,1405.0 599.4,1405.1 600.3,1405.2 601.2,1405.3 602.1,1405.4 603.1,1405.5 604.0,1405.6 604.9,1405.7 605.8,1405.8 606.7,1405.9 607.6,1406.0 608.5,1406.1 609.5,1406.2 610.4,1406.3 611.3,1406.4 612.2,1406.5 613.1,1406.5 614.0,1406.6 615.0,1406.7 615.9,1406.8 616.8,1406.9 617.7,1407.0 618.6,1407.0 619.5,1407.1 620.4,1407.2 621.4,1407.3 622.3,1407.4 623.2,1407.5 624.1,1407.5 625.0,1407.6 625.9,1407.7 626.9,1407.8 627.8,1407.8 628.7,1407.9 629.6,1408.0 630.5,1408.1 631.4,1408.1 632.3,1408.2 633.3,1408.3 634.2,1408.3 635.1,1408.4 636.0,1408.5 636.9,1408.6 637.8,1408.6 638.8,1408.7 639.7,1408.8 640.6,1408.8 641.5,1408.9 642.4,1408.9 643.3,1409.0 644.3,1409.1 645.2,1409.1 646.1,1409.2 647.0,1409.3 647.9,1409.3 648.8,1409.4 649.7,1409.4 650.7,1409.5 651.6,1409.6 652.5,1409.6 653.4,1409.7 654.3,1409.7 655.2,1409.8 656.2,1409.9 657.1,1409.9 658.0,1410.0 658.9,1410.0 659.8,1410.1 660.7,1410.1 661.6,1410.2 662.6,1410.2 663.5,1410.3 664.4,1410.3 665.3,1410.4 666.2,1410.4" fill="none" stroke="#000" stroke-width="3.9" stroke-linejoin="round"/>
<line x1="183.40" y1="1036.40" x2="183.40" y2="1434.80" stroke="#000" stroke-width="2.1" />
<line x1="182.35" y1="1433.80" x2="690.00" y2="1433.80" stroke="#000" stroke-width="2.1" />
<line x1="178.50" y1="1054.40" x2="183.40" y2="1054.40" stroke="#333" stroke-width="1.9" />
<text transform="translate(151.22,1060.60) scale(0.9818,1)" font-size="17.1" fill="#4d4d4d" >3.0</text>
<line x1="178.50" y1="1235.15" x2="183.40" y2="1235.15" stroke="#333" stroke-width="1.9" />
<text transform="translate(151.22,1241.35) scale(0.9818,1)" font-size="17.1" fill="#4d4d4d" >1.5</text>
<line x1="178.50" y1="1415.90" x2="183.40" y2="1415.90" stroke="#333" stroke-width="1.9" />
<text transform="translate(151.22,1422.10) scale(0.9818,1)" font-size="17.1" fill="#4d4d4d" >0.0</text>
<line x1="206.60" y1="1433.80" x2="206.60" y2="1438.90" stroke="#333" stroke-width="1.9" />
<text transform="translate(201.60,1455.10) scale(1.0000,1)" font-size="17.1" fill="#4d4d4d" >0</text>
<line x1="390.45" y1="1433.80" x2="390.45" y2="1438.90" stroke="#333" stroke-width="1.9" />
<text transform="translate(385.45,1455.10) scale(1.0000,1)" font-size="17.1" fill="#4d4d4d" >1</text>
<line x1="574.30" y1="1433.80" x2="574.30" y2="1438.90" stroke="#333" stroke-width="1.9" />
<text transform="translate(569.30,1455.10) scale(1.0000,1)" font-size="17.1" fill="#4d4d4d" >2</text>
<text transform="translate(423.52,1479.40) scale(1.0900,1)" font-size="19.2" fill="#000" >ISI</text>
<text transform="translate(138.4,1243.3) rotate(-90)" font-size="19.2">f<tspan font-size="14.8" dy="3.8">T</tspan></text>
<clipPath id="clip791"><rect x="791.3" y="1036.4" width="505.79999999999995" height="397.39999999999986"/></clipPath>
<polyline clip-path="url(#clip791)" points="816.0,1415.9 817.0,1415.9 817.9,1415.9 818.8,1415.9 819.7,1415.9 820.6,1415.9 821.5,1415.9 822.4,1415.9 823.4,1415.9 824.3,1415.9 825.2,1415.9 826.1,1415.8 827.0,1415.7 827.9,1415.5 828.9,1415.1 829.8,1414.4 830.7,1413.5 831.6,1412.2 832.5,1410.6 833.4,1408.5 834.3,1405.9 835.3,1402.9 836.2,1399.5 837.1,1395.6 838.0,1391.3 838.9,1386.7 839.8,1381.7 840.8,1376.5 841.7,1371.1 842.6,1365.5 843.5,1359.8 844.4,1354.0 845.3,1348.3 846.3,1342.5 847.2,1336.8 848.1,1331.2 849.0,1325.7 849.9,1320.4 850.8,1315.2 851.7,1310.2 852.7,1305.4 853.6,1300.8 854.5,1296.5 855.4,1292.4 856.3,1288.5 857.2,1284.8 858.2,1281.4 859.1,1278.2 860.0,1275.2 860.9,1272.5 861.8,1269.9 862.7,1267.6 863.6,1265.5 864.6,1263.6 865.5,1261.9 866.4,1260.4 867.3,1259.1 868.2,1257.9 869.1,1256.9 870.1,1256.1 871.0,1255.4 871.9,1254.8 872.8,1254.4 873.7,1254.1 874.6,1254.0 875.6,1253.9 876.5,1254.0 877.4,1254.1 878.3,1254.4 879.2,1254.7 880.1,1255.2 881.0,1255.7 882.0,1256.3 882.9,1256.9 883.8,1257.6 884.7,1258.4 885.6,1259.2 886.5,1260.1 887.5,1261.1 888.4,1262.0 889.3,1263.0 890.2,1264.1 891.1,1265.2 892.0,1266.3 892.9,1267.4 893.9,1268.6 894.8,1269.7 895.7,1270.9 896.6,1272.2 897.5,1273.4 898.4,1274.6 899.4,1275.9 900.3,1277.2 901.2,1278.5 902.1,1279.7 903.0,1281.0 903.9,1282.3 904.8,1283.6 905.8,1284.9 906.7,1286.2 907.6,1287.5 908.5,1288.8 909.4,1290.1 910.3,1291.4 911.3,1292.7 912.2,1294.0 913.1,1295.3 914.0,1296.5 914.9,1297.8 915.8,1299.0 916.8,1300.3 917.7,1301.5 918.6,1302.8 919.5,1304.0 920.4,1305.2 921.3,1306.4 922.2,1307.6 923.2,1308.8 924.1,1310.0 925.0,1311.1 925.9,1312.3 926.8,1313.4 927.7,1314.6 928.7,1315.7 929.6,1316.8 930.5,1317.9 931.4,1319.0 932.3,1320.1 933.2,1321.1 934.1,1322.2 935.1,1323.2 936.0,1324.3 936.9,1325.3 937.8,1326.3 938.7,1327.3 939.6,1328.3 940.6,1329.3 941.5,1330.2 942.4,1331.2 943.3,1332.1 944.2,1333.1 945.1,1334.0 946.0,1334.9 947.0,1335.8 947.9,1336.7 948.8,1337.5 949.7,1338.4 950.6,1339.3 951.5,1340.1 952.5,1340.9 953.4,1341.8 954.3,1342.6 955.2,1343.4 956.1,1344.2 957.0,1345.0 958.0,1345.7 958.9,1346.5 959.8,1347.3 960.7,1348.0 961.6,1348.7 962.5,1349.5 963.4,1350.2 964.4,1350.9 965.3,1351.6 966.2,1352.3 967.1,1353.0 968.0,1353.6 968.9,1354.3 969.9,1355.0 970.8,1355.6 971.7,1356.2 972.6,1356.9 973.5,1357.5 974.4,1358.1 975.3,1358.7 976.3,1359.3 977.2,1359.9 978.1,1360.5 979.0,1361.1 979.9,1361.6 980.8,1362.2 981.8,1362.8 982.7,1363.3 983.6,1363.9 984.5,1364.4 985.4,1364.9 986.3,1365.4 987.3,1366.0 988.2,1366.5 989.1,1367.0 990.0,1367.5 990.9,1368.0 991.8,1368.4 992.7,1368.9 993.7,1369.4 994.6,1369.9 995.5,1370.3 996.4,1370.8 997.3,1371.2 998.2,1371.7 999.2,1372.1 1000.1,1372.5 1001.0,1373.0 1001.9,1373.4 1002.8,1373.8 1003.7,1374.2 1004.6,1374.6 1005.6,1375.0 1006.5,1375.4 1007.4,1375.8 1008.3,1376.2 1009.2,1376.6 1010.1,1376.9 1011.1,1377.3 1012.0,1377.7 1012.9,1378.1 1013.8,1378.4 1014.7,1378.8 1015.6,1379.1 1016.5,1379.5 1017.5,1379.8 1018.4,1380.1 1019.3,1380.5 1020.2,1380.8 1021.1,1381.1 1022.0,1381.5 1023.0,1381.8 1023.9,1382.1 1024.8,1382.4 1025.7,1382.7 1026.6,1383.0 1027.5,1383.3 1028.5,1383.6 1029.4,1383.9 1030.3,1384.2 1031.2,1384.5 1032.1,1384.8 1033.0,1385.1 1033.9,1385.3 1034.9,1385.6 1035.8,1385.9 1036.7,1386.1 1037.6,1386.4 1038.5,1386.7 1039.4,1386.9 1040.4,1387.2 1041.3,1387.4 1042.2,1387.7 1043.1,1387.9 1044.0,1388.2 1044.9,1388.4 1045.8,1388.7 1046.8,1388.9 1047.7,1389.1 1048.6,1389.4 1049.5,1389.6 1050.4,1389.8 1051.3,1390.0 1052.3,1390.3 1053.2,1390.5 1054.1,1390.7 1055.0,1390.9 1055.9,1391.1 1056.8,1391.3 1057.7,1391.5 1058.7,1391.7 1059.6,1391.9 1060.5,1392.1 1061.4,1392.3 1062.3,1392.5 1063.2,1392.7 1064.2,1392.9 1065.1,1393.1 1066.0,1393.3 1066.9,1393.5 1067.8,1393.7 1068.7,1393.8 1069.7,1394.0 1070.6,1394.2 1071.5,1394.4 1072.4,1394.6 1073.3,1394.7 1074.2,1394.9 1075.1,1395.1 1076.1,1395.2 1077.0,1395.4 1077.9,1395.6 1078.8,1395.7 1079.7,1395.9 1080.6,1396.0 1081.6,1396.2 1082.5,1396.4 1083.4,1396.5 1084.3,1396.7 1085.2,1396.8 1086.1,1397.0 1087.0,1397.1 1088.0,1397.3 1088.9,1397.4 1089.8,1397.5 1090.7,1397.7 1091.6,1397.8 1092.5,1398.0 1093.5,1398.1 1094.4,1398.2 1095.3,1398.4 1096.2,1398.5 1097.1,1398.6 1098.0,1398.8 1099.0,1398.9 1099.9,1399.0 1100.8,1399.1 1101.7,1399.3 1102.6,1399.4 1103.5,1399.5 1104.4,1399.6 1105.4,1399.8 1106.3,1399.9 1107.2,1400.0 1108.1,1400.1 1109.0,1400.2 1109.9,1400.4 1110.9,1400.5 1111.8,1400.6 1112.7,1400.7 1113.6,1400.8 1114.5,1400.9 1115.4,1401.0 1116.3,1401.1 1117.3,1401.2 1118.2,1401.3 1119.1,1401.4 1120.0,1401.5 1120.9,1401.6 1121.8,1401.8 1122.8,1401.9 1123.7,1402.0 1124.6,1402.1 1125.5,1402.1 1126.4,1402.2 1127.3,1402.3 1128.2,1402.4 1129.2,1402.5 1130.1,1402.6 1131.0,1402.7 1131.9,1402.8 1132.8,1402.9 1133.7,1403.0 1134.7,1403.1 1135.6,1403.2 1136.5,1403.3 1137.4,1403.3 1138.3,1403.4 1139.2,1403.5 1140.2,1403.6 1141.1,1403.7 1142.0,1403.8 1142.9,1403.8 1143.8,1403.9 1144.7,1404.0 1145.6,1404.1 1146.6,1404.2 1147.5,1404.2 1148.4,1404.3 1149.3,1404.4 1150.2,1404.5 1151.1,1404.6 1152.1,1404.6 1153.0,1404.7 1153.9,1404.8 1154.8,1404.9 1155.7,1404.9 1156.6,1405.0 1157.5,1405.1 1158.5,1405.1 1159.4,1405.2 1160.3,1405.3 1161.2,1405.3 1162.1,1405.4 1163.0,1405.5 1164.0,1405.6 1164.9,1405.6 1165.8,1405.7 1166.7,1405.8 1167.6,1405.8 1168.5,1405.9 1169.4,1405.9 1170.4,1406.0 1171.3,1406.1 1172.2,1406.1 1173.1,1406.2 1174.0,1406.3 1174.9,1406.3 1175.9,1406.4 1176.8,1406.4 1177.7,1406.5 1178.6,1406.6 1179.5,1406.6 1180.4,1406.7 1181.4,1406.7 1182.3,1406.8 1183.2,1406.8 1184.1,1406.9 1185.0,1407.0 1185.9,1407.0 1186.8,1407.1 1187.8,1407.1 1188.7,1407.2 1189.6,1407.2 1190.5,1407.3 1191.4,1407.3 1192.3,1407.4 1193.3,1407.4 1194.2,1407.5 1195.1,1407.5 1196.0,1407.6 1196.9,1407.6 1197.8,1407.7 1198.7,1407.7 1199.7,1407.8 1200.6,1407.8 1201.5,1407.9 1202.4,1407.9 1203.3,1408.0 1204.2,1408.0 1205.2,1408.1 1206.1,1408.1 1207.0,1408.2 1207.9,1408.2 1208.8,1408.3 1209.7,1408.3 1210.7,1408.3 1211.6,1408.4 1212.5,1408.4 1213.4,1408.5 1214.3,1408.5 1215.2,1408.6 1216.1,1408.6 1217.1,1408.6 1218.0,1408.7 1218.9,1408.7 1219.8,1408.8 1220.7,1408.8 1221.6,1408.8 1222.6,1408.9 1223.5,1408.9 1224.4,1409.0 1225.3,1409.0 1226.2,1409.0 1227.1,1409.1 1228.0,1409.1 1229.0,1409.2 1229.9,1409.2 1230.8,1409.2 1231.7,1409.3 1232.6,1409.3 1233.5,1409.3 1234.5,1409.4 1235.4,1409.4 1236.3,1409.5 1237.2,1409.5 1238.1,1409.5 1239.0,1409.6 1239.9,1409.6 1240.9,1409.6 1241.8,1409.7 1242.7,1409.7 1243.6,1409.7 1244.5,1409.8 1245.4,1409.8 1246.4,1409.8 1247.3,1409.9 1248.2,1409.9 1249.1,1409.9 1250.0,1410.0 1250.9,1410.0 1251.9,1410.0 1252.8,1410.1 1253.7,1410.1 1254.6,1410.1 1255.5,1410.2 1256.4,1410.2 1257.3,1410.2 1258.3,1410.2 1259.2,1410.3 1260.1,1410.3 1261.0,1410.3 1261.9,1410.4 1262.8,1410.4 1263.8,1410.4 1264.7,1410.5 1265.6,1410.5 1266.5,1410.5 1267.4,1410.5 1268.3,1410.6 1269.2,1410.6 1270.2,1410.6 1271.1,1410.6 1272.0,1410.7 1272.9,1410.7 1273.8,1410.7" fill="none" stroke="#00bfff" stroke-width="3.5" stroke-linejoin="round"/>
<polyline clip-path="url(#clip791)" points="816.0,1415.9 817.0,1415.9 817.9,1415.8 818.8,1415.1 819.7,1411.9 820.6,1404.2 821.5,1390.8 822.4,1371.8 823.4,1348.3 824.3,1322.1 825.2,1294.8 826.1,1267.8 827.0,1242.0 827.9,1218.3 828.9,1197.0 829.8,1178.3 830.7,1162.3 831.6,1148.8 832.5,1137.8 833.4,1129.0 834.3,1122.2 835.3,1117.2 836.2,1113.9 837.1,1111.9 838.0,1111.2 838.9,1111.5 839.8,1112.7 840.8,1114.7 841.7,1117.3 842.6,1120.5 843.5,1124.1 844.4,1128.0 845.3,1132.3 846.3,1136.8 847.2,1141.5 848.1,1146.4 849.0,1151.3 849.9,1156.3 850.8,1161.4 851.7,1166.4 852.7,1171.5 853.6,1176.5 854.5,1181.5 855.4,1186.4 856.3,1191.3 857.2,1196.1 858.2,1200.8 859.1,1205.5 860.0,1210.0 860.9,1214.5 861.8,1218.8 862.7,1223.1 863.6,1227.3 864.6,1231.4 865.5,1235.4 866.4,1239.3 867.3,1243.1 868.2,1246.8 869.1,1250.4 870.1,1254.0 871.0,1257.4 871.9,1260.7 872.8,1264.0 873.7,1267.2 874.6,1270.3 875.6,1273.3 876.5,1276.3 877.4,1279.1 878.3,1281.9 879.2,1284.6 880.1,1287.3 881.0,1289.9 882.0,1292.4 882.9,1294.8 883.8,1297.2 884.7,1299.5 885.6,1301.8 886.5,1304.0 887.5,1306.2 888.4,1308.2 889.3,1310.3 890.2,1312.3 891.1,1314.2 892.0,1316.1 892.9,1318.0 893.9,1319.8 894.8,1321.5 895.7,1323.2 896.6,1324.9 897.5,1326.5 898.4,1328.1 899.4,1329.7 900.3,1331.2 901.2,1332.7 902.1,1334.1 903.0,1335.5 903.9,1336.9 904.8,1338.2 905.8,1339.5 906.7,1340.8 907.6,1342.1 908.5,1343.3 909.4,1344.5 910.3,1345.7 911.3,1346.8 912.2,1347.9 913.1,1349.0 914.0,1350.1 914.9,1351.1 915.8,1352.1 916.8,1353.1 917.7,1354.1 918.6,1355.1 919.5,1356.0 920.4,1356.9 921.3,1357.8 922.2,1358.7 923.2,1359.5 924.1,1360.4 925.0,1361.2 925.9,1362.0 926.8,1362.8 927.7,1363.6 928.7,1364.3 929.6,1365.1 930.5,1365.8 931.4,1366.5 932.3,1367.2 933.2,1367.9 934.1,1368.6 935.1,1369.2 936.0,1369.9 936.9,1370.5 937.8,1371.1 938.7,1371.7 939.6,1372.3 940.6,1372.9 941.5,1373.5 942.4,1374.1 943.3,1374.6 944.2,1375.2 945.1,1375.7 946.0,1376.2 947.0,1376.7 947.9,1377.2 948.8,1377.7 949.7,1378.2 950.6,1378.7 951.5,1379.2 952.5,1379.6 953.4,1380.1 954.3,1380.5 955.2,1381.0 956.1,1381.4 957.0,1381.8 958.0,1382.2 958.9,1382.6 959.8,1383.0 960.7,1383.4 961.6,1383.8 962.5,1384.2 963.4,1384.6 964.4,1384.9 965.3,1385.3 966.2,1385.7 967.1,1386.0 968.0,1386.3 968.9,1386.7 969.9,1387.0 970.8,1387.3 971.7,1387.7 972.6,1388.0 973.5,1388.3 974.4,1388.6 975.3,1388.9 976.3,1389.2 977.2,1389.5 978.1,1389.8 979.0,1390.1 979.9,1390.4 980.8,1390.6 981.8,1390.9 982.7,1391.2 983.6,1391.4 984.5,1391.7 985.4,1391.9 986.3,1392.2 987.3,1392.4 988.2,1392.7 989.1,1392.9 990.0,1393.2 990.9,1393.4 991.8,1393.6 992.7,1393.9 993.7,1394.1 994.6,1394.3 995.5,1394.5 996.4,1394.7 997.3,1394.9 998.2,1395.1 999.2,1395.4 1000.1,1395.6 1001.0,1395.8 1001.9,1396.0 1002.8,1396.1 1003.7,1396.3 1004.6,1396.5 1005.6,1396.7 1006.5,1396.9 1007.4,1397.1 1008.3,1397.3 1009.2,1397.4 1010.1,1397.6 1011.1,1397.8 1012.0,1397.9 1012.9,1398.1 1013.8,1398.3 1014.7,1398.4 1015.6,1398.6 1016.5,1398.8 1017.5,1398.9 1018.4,1399.1 1019.3,1399.2 1020.2,1399.4 1021.1,1399.5 1022.0,1399.7 1023.0,1399.8 1023.9,1400.0 1024.8,1400.1 1025.7,1400.2 1026.6,1400.4 1027.5,1400.5 1028.5,1400.6 1029.4,1400.8 1030.3,1400.9 1031.2,1401.0 1032.1,1401.2 1033.0,1401.3 1033.9,1401.4 1034.9,1401.5 1035.8,1401.7 1036.7,1401.8 1037.6,1401.9 1038.5,1402.0 1039.4,1402.1 1040.4,1402.2 1041.3,1402.4 1042.2,1402.5 1043.1,1402.6 1044.0,1402.7 1044.9,1402.8 1045.8,1402.9 1046.8,1403.0 1047.7,1403.1 1048.6,1403.2 1049.5,1403.3 1050.4,1403.4 1051.3,1403.5 1052.3,1403.6 1053.2,1403.7 1054.1,1403.8 1055.0,1403.9 1055.9,1404.0 1056.8,1404.1 1057.7,1404.2 1058.7,1404.3 1059.6,1404.4 1060.5,1404.4 1061.4,1404.5 1062.3,1404.6 1063.2,1404.7 1064.2,1404.8 1065.1,1404.9 1066.0,1405.0 1066.9,1405.0 1067.8,1405.1 1068.7,1405.2 1069.7,1405.3 1070.6,1405.4 1071.5,1405.4 1072.4,1405.5 1073.3,1405.6 1074.2,1405.7 1075.1,1405.7 1076.1,1405.8 1077.0,1405.9 1077.9,1406.0 1078.8,1406.0 1079.7,1406.1 1080.6,1406.2 1081.6,1406.2 1082.5,1406.3 1083.4,1406.4 1084.3,1406.5 1085.2,1406.5 1086.1,1406.6 1087.0,1406.7 1088.0,1406.7 1088.9,1406.8 1089.8,1406.8 1090.7,1406.9 1091.6,1407.0 1092.5,1407.0 1093.5,1407.1 1094.4,1407.2 1095.3,1407.2 1096.2,1407.3 1097.1,1407.3 1098.0,1407.4 1099.0,1407.4 1099.9,1407.5 1100.8,1407.6 1101.7,1407.6 1102.6,1407.7 1103.5,1407.7 1104.4,1407.8 1105.4,1407.8 1106.3,1407.9 1107.2,1407.9 1108.1,1408.0 1109.0,1408.0 1109.9,1408.1 1110.9,1408.1 1111.8,1408.2 1112.7,1408.2 1113.6,1408.3 1114.5,1408.3 1115.4,1408.4 1116.3,1408.4 1117.3,1408.5 1118.2,1408.5 1119.1,1408.6 1120.0,1408.6 1120.9,1408.7 1121.8,1408.7 1122.8,1408.8 1123.7,1408.8 1124.6,1408.9 1125.5,1408.9 1126.4,1408.9 1127.3,1409.0 1128.2,1409.0 1129.2,1409.1 1130.1,1409.1 1131.0,1409.2 1131.9,1409.2 1132.8,1409.2 1133.7,1409.3 1134.7,1409.3 1135.6,1409.4 1136.5,1409.4 1137.4,1409.4 1138.3,1409.5 1139.2,1409.5 1140.2,1409.6 1141.1,1409.6 1142.0,1409.6 1142.9,1409.7 1143.8,1409.7 1144.7,1409.7 1145.6,1409.8 1146.6,1409.8 1147.5,1409.8 1148.4,1409.9 1149.3,1409.9 1150.2,1409.9 1151.1,1410.0 1152.1,1410.0 1153.0,1410.1 1153.9,1410.1 1154.8,1410.1 1155.7,1410.2 1156.6,1410.2 1157.5,1410.2 1158.5,1410.2 1159.4,1410.3 1160.3,1410.3 1161.2,1410.3 1162.1,1410.4 1163.0,1410.4 1164.0,1410.4 1164.9,1410.5 1165.8,1410.5 1166.7,1410.5 1167.6,1410.6 1168.5,1410.6 1169.4,1410.6 1170.4,1410.6 1171.3,1410.7 1172.2,1410.7 1173.1,1410.7 1174.0,1410.8 1174.9,1410.8 1175.9,1410.8 1176.8,1410.8 1177.7,1410.9 1178.6,1410.9 1179.5,1410.9 1180.4,1411.0 1181.4,1411.0 1182.3,1411.0 1183.2,1411.0 1184.1,1411.1 1185.0,1411.1 1185.9,1411.1 1186.8,1411.1 1187.8,1411.2 1188.7,1411.2 1189.6,1411.2 1190.5,1411.2 1191.4,1411.3 1192.3,1411.3 1193.3,1411.3 1194.2,1411.3 1195.1,1411.4 1196.0,1411.4 1196.9,1411.4 1197.8,1411.4 1198.7,1411.4 1199.7,1411.5 1200.6,1411.5 1201.5,1411.5 1202.4,1411.5 1203.3,1411.6 1204.2,1411.6 1205.2,1411.6 1206.1,1411.6 1207.0,1411.6 1207.9,1411.7 1208.8,1411.7 1209.7,1411.7 1210.7,1411.7 1211.6,1411.7 1212.5,1411.8 1213.4,1411.8 1214.3,1411.8 1215.2,1411.8 1216.1,1411.9 1217.1,1411.9 1218.0,1411.9 1218.9,1411.9 1219.8,1411.9 1220.7,1411.9 1221.6,1412.0 1222.6,1412.0 1223.5,1412.0 1224.4,1412.0 1225.3,1412.0 1226.2,1412.1 1227.1,1412.1 1228.0,1412.1 1229.0,1412.1 1229.9,1412.1 1230.8,1412.2 1231.7,1412.2 1232.6,1412.2 1233.5,1412.2 1234.5,1412.2 1235.4,1412.2 1236.3,1412.3 1237.2,1412.3 1238.1,1412.3 1239.0,1412.3 1239.9,1412.3 1240.9,1412.3 1241.8,1412.4 1242.7,1412.4 1243.6,1412.4 1244.5,1412.4 1245.4,1412.4 1246.4,1412.4 1247.3,1412.5 1248.2,1412.5 1249.1,1412.5 1250.0,1412.5 1250.9,1412.5 1251.9,1412.5 1252.8,1412.5 1253.7,1412.6 1254.6,1412.6 1255.5,1412.6 1256.4,1412.6 1257.3,1412.6 1258.3,1412.6 1259.2,1412.7 1260.1,1412.7 1261.0,1412.7 1261.9,1412.7 1262.8,1412.7 1263.8,1412.7 1264.7,1412.7 1265.6,1412.8 1266.5,1412.8 1267.4,1412.8 1268.3,1412.8 1269.2,1412.8 1270.2,1412.8 1271.1,1412.8 1272.0,1412.8 1272.9,1412.9 1273.8,1412.9" fill="none" stroke="#a6a6a6" stroke-width="3.5" stroke-linejoin="round"/>
<polyline clip-path="url(#clip791)" points="816.0,1415.9 817.0,1415.9 817.9,1415.9 818.8,1415.9 819.7,1415.9 820.6,1415.9 821.5,1415.9 822.4,1415.9 823.4,1415.9 824.3,1415.9 825.2,1415.9 826.1,1415.9 827.0,1415.9 827.9,1415.9 828.9,1415.9 829.8,1415.9 830.7,1415.9 831.6,1415.9 832.5,1415.9 833.4,1415.9 834.3,1415.9 835.3,1415.8 836.2,1415.8 837.1,1415.7 838.0,1415.6 838.9,1415.5 839.8,1415.3 840.8,1415.1 841.7,1414.9 842.6,1414.6 843.5,1414.2 844.4,1413.8 845.3,1413.2 846.3,1412.7 847.2,1412.0 848.1,1411.2 849.0,1410.4 849.9,1409.4 850.8,1408.4 851.7,1407.3 852.7,1406.1 853.6,1404.8 854.5,1403.4 855.4,1401.9 856.3,1400.4 857.2,1398.8 858.2,1397.1 859.1,1395.3 860.0,1393.5 860.9,1391.6 861.8,1389.6 862.7,1387.6 863.6,1385.6 864.6,1383.5 865.5,1381.4 866.4,1379.3 867.3,1377.1 868.2,1374.9 869.1,1372.7 870.1,1370.5 871.0,1368.2 871.9,1366.0 872.8,1363.8 873.7,1361.6 874.6,1359.4 875.6,1357.2 876.5,1355.0 877.4,1352.9 878.3,1350.7 879.2,1348.6 880.1,1346.5 881.0,1344.5 882.0,1342.5 882.9,1340.5 883.8,1338.5 884.7,1336.6 885.6,1334.7 886.5,1332.9 887.5,1331.1 888.4,1329.4 889.3,1327.7 890.2,1326.0 891.1,1324.4 892.0,1322.9 892.9,1321.3 893.9,1319.9 894.8,1318.4 895.7,1317.1 896.6,1315.7 897.5,1314.4 898.4,1313.2 899.4,1312.0 900.3,1310.9 901.2,1309.8 902.1,1308.7 903.0,1307.7 903.9,1306.8 904.8,1305.9 905.8,1305.0 906.7,1304.2 907.6,1303.4 908.5,1302.6 909.4,1301.9 910.3,1301.3 911.3,1300.7 912.2,1300.1 913.1,1299.5 914.0,1299.0 914.9,1298.6 915.8,1298.2 916.8,1297.8 917.7,1297.4 918.6,1297.1 919.5,1296.8 920.4,1296.6 921.3,1296.3 922.2,1296.1 923.2,1296.0 924.1,1295.9 925.0,1295.8 925.9,1295.7 926.8,1295.6 927.7,1295.6 928.7,1295.6 929.6,1295.7 930.5,1295.7 931.4,1295.8 932.3,1295.9 933.2,1296.1 934.1,1296.2 935.1,1296.4 936.0,1296.6 936.9,1296.8 937.8,1297.0 938.7,1297.3 939.6,1297.6 940.6,1297.9 941.5,1298.2 942.4,1298.5 943.3,1298.8 944.2,1299.2 945.1,1299.5 946.0,1299.9 947.0,1300.3 947.9,1300.7 948.8,1301.2 949.7,1301.6 950.6,1302.0 951.5,1302.5 952.5,1303.0 953.4,1303.4 954.3,1303.9 955.2,1304.4 956.1,1304.9 957.0,1305.4 958.0,1306.0 958.9,1306.5 959.8,1307.0 960.7,1307.6 961.6,1308.1 962.5,1308.7 963.4,1309.3 964.4,1309.8 965.3,1310.4 966.2,1311.0 967.1,1311.6 968.0,1312.2 968.9,1312.8 969.9,1313.4 970.8,1314.0 971.7,1314.6 972.6,1315.2 973.5,1315.8 974.4,1316.4 975.3,1317.0 976.3,1317.7 977.2,1318.3 978.1,1318.9 979.0,1319.5 979.9,1320.2 980.8,1320.8 981.8,1321.4 982.7,1322.1 983.6,1322.7 984.5,1323.3 985.4,1324.0 986.3,1324.6 987.3,1325.2 988.2,1325.9 989.1,1326.5 990.0,1327.1 990.9,1327.7 991.8,1328.4 992.7,1329.0 993.7,1329.6 994.6,1330.3 995.5,1330.9 996.4,1331.5 997.3,1332.1 998.2,1332.8 999.2,1333.4 1000.1,1334.0 1001.0,1334.6 1001.9,1335.2 1002.8,1335.9 1003.7,1336.5 1004.6,1337.1 1005.6,1337.7 1006.5,1338.3 1007.4,1338.9 1008.3,1339.5 1009.2,1340.1 1010.1,1340.7 1011.1,1341.3 1012.0,1341.9 1012.9,1342.5 1013.8,1343.0 1014.7,1343.6 1015.6,1344.2 1016.5,1344.8 1017.5,1345.4 1018.4,1345.9 1019.3,1346.5 1020.2,1347.1 1021.1,1347.6 1022.0,1348.2 1023.0,1348.7 1023.9,1349.3 1024.8,1349.8 1025.7,1350.4 1026.6,1350.9 1027.5,1351.5 1028.5,1352.0 1029.4,1352.5 1030.3,1353.1 1031.2,1353.6 1032.1,1354.1 1033.0,1354.6 1033.9,1355.2 1034.9,1355.7 1035.8,1356.2 1036.7,1356.7 1037.6,1357.2 1038.5,1357.7 1039.4,1358.2 1040.4,1358.7 1041.3,1359.2 1042.2,1359.7 1043.1,1360.1 1044.0,1360.6 1044.9,1361.1 1045.8,1361.6 1046.8,1362.0 1047.7,1362.5 1048.6,1363.0 1049.5,1363.4 1050.4,1363.9 1051.3,1364.4 1052.3,1364.8 1053.2,1365.2 1054.1,1365.7 1055.0,1366.1 1055.9,1366.6 1056.8,1367.0 1057.7,1367.4 1058.7,1367.9 1059.6,1368.3 1060.5,1368.7 1061.4,1369.1 1062.3,1369.5 1063.2,1370.0 1064.2,1370.4 1065.1,1370.8 1066.0,1371.2 1066.9,1371.6 1067.8,1372.0 1068.7,1372.4 1069.7,1372.7 1070.6,1373.1 1071.5,1373.5 1072.4,1373.9 1073.3,1374.3 1074.2,1374.6 1075.1,1375.0 1076.1,1375.4 1077.0,1375.7 1077.9,1376.1 1078.8,1376.5 1079.7,1376.8 1080.6,1377.2 1081.6,1377.5 1082.5,1377.9 1083.4,1378.2 1084.3,1378.6 1085.2,1378.9 1086.1,1379.2 1087.0,1379.6 1088.0,1379.9 1088.9,1380.2 1089.8,1380.5 1090.7,1380.9 1091.6,1381.2 1092.5,1381.5 1093.5,1381.8 1094.4,1382.1 1095.3,1382.4 1096.2,1382.7 1097.1,1383.0 1098.0,1383.3 1099.0,1383.6 1099.9,1383.9 1100.8,1384.2 1101.7,1384.5 1102.6,1384.8 1103.5,1385.1 1104.4,1385.4 1105.4,1385.6 1106.3,1385.9 1107.2,1386.2 1108.1,1386.5 1109.0,1386.7 1109.9,1387.0 1110.9,1387.3 1111.8,1387.5 1112.7,1387.8 1113.6,1388.1 1114.5,1388.3 1115.4,1388.6 1116.3,1388.8 1117.3,1389.1 1118.2,1389.3 1119.1,1389.6 1120.0,1389.8 1120.9,1390.0 1121.8,1390.3 1122.8,1390.5 1123.7,1390.7 1124.6,1391.0 1125.5,1391.2 1126.4,1391.4 1127.3,1391.7 1128.2,1391.9 1129.2,1392.1 1130.1,1392.3 1131.0,1392.5 1131.9,1392.8 1132.8,1393.0 1133.7,1393.2 1134.7,1393.4 1135.6,1393.6 1136.5,1393.8 1137.4,1394.0 1138.3,1394.2 1139.2,1394.4 1140.2,1394.6 1141.1,1394.8 1142.0,1395.0 1142.9,1395.2 1143.8,1395.4 1144.7,1395.6 1145.6,1395.8 1146.6,1396.0 1147.5,1396.2 1148.4,1396.3 1149.3,1396.5 1150.2,1396.7 1151.1,1396.9 1152.1,1397.0 1153.0,1397.2 1153.9,1397.4 1154.8,1397.6 1155.7,1397.7 1156.6,1397.9 1157.5,1398.1 1158.5,1398.2 1159.4,1398.4 1160.3,1398.6 1161.2,1398.7 1162.1,1398.9 1163.0,1399.0 1164.0,1399.2 1164.9,1399.4 1165.8,1399.5 1166.7,1399.7 1167.6,1399.8 1168.5,1400.0 1169.4,1400.1 1170.4,1400.3 1171.3,1400.4 1172.2,1400.5 1173.1,1400.7 1174.0,1400.8 1174.9,1401.0 1175.9,1401.1 1176.8,1401.2 1177.7,1401.4 1178.6,1401.5 1179.5,1401.7 1180.4,1401.8 1181.4,1401.9 1182.3,1402.0 1183.2,1402.2 1184.1,1402.3 1185.0,1402.4 1185.9,1402.6 1186.8,1402.7 1187.8,1402.8 1188.7,1402.9 1189.6,1403.0 1190.5,1403.2 1191.4,1403.3 1192.3,1403.4 1193.3,1403.5 1194.2,1403.6 1195.1,1403.7 1196.0,1403.9 1196.9,1404.0 1197.8,1404.1 1198.7,1404.2 1199.7,1404.3 1200.6,1404.4 1201.5,1404.5 1202.4,1404.6 1203.3,1404.7 1204.2,1404.8 1205.2,1404.9 1206.1,1405.0 1207.0,1405.1 1207.9,1405.2 1208.8,1405.3 1209.7,1405.4 1210.7,1405.5 1211.6,1405.6 1212.5,1405.7 1213.4,1405.8 1214.3,1405.9 1215.2,1406.0 1216.1,1406.1 1217.1,1406.2 1218.0,1406.3 1218.9,1406.4 1219.8,1406.5 1220.7,1406.5 1221.6,1406.6 1222.6,1406.7 1223.5,1406.8 1224.4,1406.9 1225.3,1407.0 1226.2,1407.0 1227.1,1407.1 1228.0,1407.2 1229.0,1407.3 1229.9,1407.4 1230.8,1407.5 1231.7,1407.5 1232.6,1407.6 1233.5,1407.7 1234.5,1407.8 1235.4,1407.8 1236.3,1407.9 1237.2,1408.0 1238.1,1408.1 1239.0,1408.1 1239.9,1408.2 1240.9,1408.3 1241.8,1408.3 1242.7,1408.4 1243.6,1408.5 1244.5,1408.6 1245.4,1408.6 1246.4,1408.7 1247.3,1408.8 1248.2,1408.8 1249.1,1408.9 1250.0,1408.9 1250.9,1409.0 1251.9,1409.1 1252.8,1409.1 1253.7,1409.2 1254.6,1409.3 1255.5,1409.3 1256.4,1409.4 1257.3,1409.4 1258.3,1409.5 1259.2,1409.6 1260.1,1409.6 1261.0,1409.7 1261.9,1409.7 1262.8,1409.8 1263.8,1409.9 1264.7,1409.9 1265.6,1410.0 1266.5,1410.0 1267.4,1410.1 1268.3,1410.1 1269.2,1410.2 1270.2,1410.2 1271.1,1410.3 1272.0,1410.3 1272.9,1410.4 1273.8,1410.4" fill="none" stroke="#000" stroke-width="3.9" stroke-linejoin="round"/>
<line x1="791.30" y1="1036.40" x2="791.30" y2="1434.80" stroke="#000" stroke-width="2.1" />
<line x1="790.25" y1="1433.80" x2="1297.10" y2="1433.80" stroke="#000" stroke-width="2.1" />
<line x1="786.40" y1="1054.40" x2="791.30" y2="1054.40" stroke="#333" stroke-width="1.9" />
<text transform="translate(759.12,1060.60) scale(0.9818,1)" font-size="17.1" fill="#4d4d4d" >3.0</text>
<line x1="786.40" y1="1235.15" x2="791.30" y2="1235.15" stroke="#333" stroke-width="1.9" />
<text transform="translate(759.12,1241.35) scale(0.9818,1)" font-size="17.1" fill="#4d4d4d" >1.5</text>
<line x1="786.40" y1="1415.90" x2="791.30" y2="1415.90" stroke="#333" stroke-width="1.9" />
<text transform="translate(759.12,1422.10) scale(0.9818,1)" font-size="17.1" fill="#4d4d4d" >0.0</text>
<line x1="814.20" y1="1433.80" x2="814.20" y2="1438.90" stroke="#333" stroke-width="1.9" />
<text transform="translate(809.20,1455.10) scale(1.0000,1)" font-size="17.1" fill="#4d4d4d" >0</text>
<line x1="998.05" y1="1433.80" x2="998.05" y2="1438.90" stroke="#333" stroke-width="1.9" />
<text transform="translate(993.05,1455.10) scale(1.0000,1)" font-size="17.1" fill="#4d4d4d" >1</text>
<line x1="1181.90" y1="1433.80" x2="1181.90" y2="1438.90" stroke="#333" stroke-width="1.9" />
<text transform="translate(1176.90,1455.10) scale(1.0000,1)" font-size="17.1" fill="#4d4d4d" >2</text>
<text transform="translate(957.52,1479.40) scale(1.0378,1)" font-size="19.2" fill="#000" >Instantaneous Rate</text>
<text transform="translate(745.6,1243.3) rotate(-90)" font-size="19.2">f<tspan font-size="14.8" dy="3.8">R</tspan></text>
<text transform="translate(354.07,1562.30) scale(1.1630,1)" font-size="25" fill="#1a1a1a" >Distributions</text>
<line x1="529.50" y1="1552.50" x2="560.70" y2="1552.50" stroke="#00bfff" stroke-width="5.2" />
<text transform="translate(576.98,1559.50) scale(1.1245,1)" font-size="20" fill="#1a1a1a" >Exponential</text>
<line x1="709.00" y1="1552.50" x2="739.70" y2="1552.50" stroke="#a6a6a6" stroke-width="5.2" />
<text transform="translate(755.52,1559.50) scale(1.0814,1)" font-size="20" fill="#1a1a1a" >Gamma</text>
<line x1="851.40" y1="1552.50" x2="882.60" y2="1552.50" stroke="#000" stroke-width="5.2" />
<text transform="translate(898.59,1559.50) scale(1.1052,1)" font-size="20" fill="#1a1a1a" >Inverse Gaussian</text>
</g>
<g id="panelD">
<rect x="231.30" y="1678.30" width="367.00" height="59.30" rx="13" ry="13" fill="#fff" stroke="#000" stroke-width="2.8"/>
<text transform="translate(243.50,1717.80) scale(0.9335,1)" font-size="38.8" fill="#000" >Inter-spike interval,</text>
<text transform="translate(560.13,1717.80) scale(0.9565,1)" font-size="38.8" fill="#000" font-style="italic">T</text>
<rect x="187.50" y="1809.30" width="163.60" height="96.20" rx="13" ry="13" fill="#fff" stroke="#000" stroke-width="2.8"/>
<text transform="translate(201.00,1845.10) scale(0.9594,1)" font-size="33.5" fill="#000" >Variability</text>
<text transform="translate(224.61,1887.00) scale(0.8955,1)" font-size="33.5" fill="#000" font-style="italic">C</text>
<text transform="translate(246.51,1891.20) scale(1.0471,1)" font-size="25.5" fill="#000" font-style="italic">V</text>
<text transform="translate(269.24,1887.00) scale(0.7778,1)" font-size="33.5" fill="#000" >(</text>
<text transform="translate(281.44,1887.00) scale(0.9200,1)" font-size="33.5" fill="#000" font-style="italic">T</text>
<text transform="translate(305.10,1887.00) scale(0.7778,1)" font-size="33.5" fill="#000" >)</text>
<rect x="451.20" y="1809.30" width="215.90" height="96.20" rx="13" ry="13" fill="#fff" stroke="#000" stroke-width="2.8"/>
<text transform="translate(463.19,1845.10) scale(0.9696,1)" font-size="33.5" fill="#000" >Randomness</text>
<text transform="translate(517.34,1887.00) scale(0.8318,1)" font-size="33.5" fill="#000" font-style="italic">C</text>
<text transform="translate(541.00,1891.20) scale(0.9923,1)" font-size="25.5" fill="#000" font-style="italic">h</text>
<text transform="translate(556.76,1887.00) scale(0.8222,1)" font-size="33.5" fill="#000" >(</text>
<text transform="translate(567.52,1887.00) scale(0.9600,1)" font-size="33.5" fill="#000" font-style="italic">T</text>
<text transform="translate(592.40,1887.00) scale(0.8778,1)" font-size="33.5" fill="#000" >)</text>
<line x1="383.30" y1="1738.70" x2="329.61" y2="1795.90" stroke="#000" stroke-width="2.7" />
<polygon points="319.00,1807.20 325.95,1789.72 336.01,1799.16" fill="#000"/>
<line x1="444.90" y1="1738.70" x2="498.96" y2="1795.93" stroke="#000" stroke-width="2.7" />
<polygon points="509.60,1807.20 492.57,1799.22 502.60,1789.74" fill="#000"/>
<rect x="809.30" y="1678.30" width="371.00" height="59.30" rx="13" ry="13" fill="#fff" stroke="#000" stroke-width="2.8"/>
<text transform="translate(821.19,1717.80) scale(0.9353,1)" font-size="38.8" fill="#000" >Instantaneous rate,</text>
<text transform="translate(1142.08,1717.80) scale(0.9231,1)" font-size="38.8" fill="#000" font-style="italic">R</text>
<rect x="767.90" y="1809.30" width="163.10" height="96.20" rx="13" ry="13" fill="#fff" stroke="#000" stroke-width="2.8"/>
<text transform="translate(782.30,1845.10) scale(0.9497,1)" font-size="33.5" fill="#000" >Variability</text>
<text transform="translate(805.16,1887.00) scale(0.8682,1)" font-size="33.5" fill="#000" font-style="italic">C</text>
<text transform="translate(826.88,1891.20) scale(1.0118,1)" font-size="25.5" fill="#000" font-style="italic">V</text>
<text transform="translate(849.26,1887.00) scale(0.8222,1)" font-size="33.5" fill="#000" >(</text>
<text transform="translate(862.10,1887.00) scale(0.9000,1)" font-size="33.5" fill="#000" font-style="italic">R</text>
<text transform="translate(886.50,1887.00) scale(0.8222,1)" font-size="33.5" fill="#000" >)</text>
<rect x="1032.10" y="1809.30" width="215.60" height="96.20" rx="13" ry="13" fill="#fff" stroke="#000" stroke-width="2.8"/>
<text transform="translate(1043.59,1845.10) scale(0.9686,1)" font-size="33.5" fill="#000" >Randomness</text>
<text transform="translate(1096.76,1887.00) scale(0.9182,1)" font-size="33.5" fill="#000" font-style="italic">C</text>
<text transform="translate(1120.60,1891.20) scale(0.9923,1)" font-size="25.5" fill="#000" font-style="italic">h</text>
<text transform="translate(1136.68,1887.00) scale(0.8111,1)" font-size="33.5" fill="#000" >(</text>
<text transform="translate(1148.39,1887.00) scale(0.9136,1)" font-size="33.5" fill="#000" font-style="italic">R</text>
<text transform="translate(1172.80,1887.00) scale(0.8111,1)" font-size="33.5" fill="#000" >)</text>
<line x1="965.00" y1="1738.70" x2="909.39" y2="1796.07" stroke="#000" stroke-width="2.7" />
<polygon points="898.60,1807.20 905.83,1789.83 915.73,1799.44" fill="#000"/>
<line x1="1023.60" y1="1738.70" x2="1078.66" y2="1796.02" stroke="#000" stroke-width="2.7" />
<polygon points="1089.40,1807.20 1072.30,1799.36 1082.25,1789.80" fill="#000"/>
</g>
</svg></body></html>
